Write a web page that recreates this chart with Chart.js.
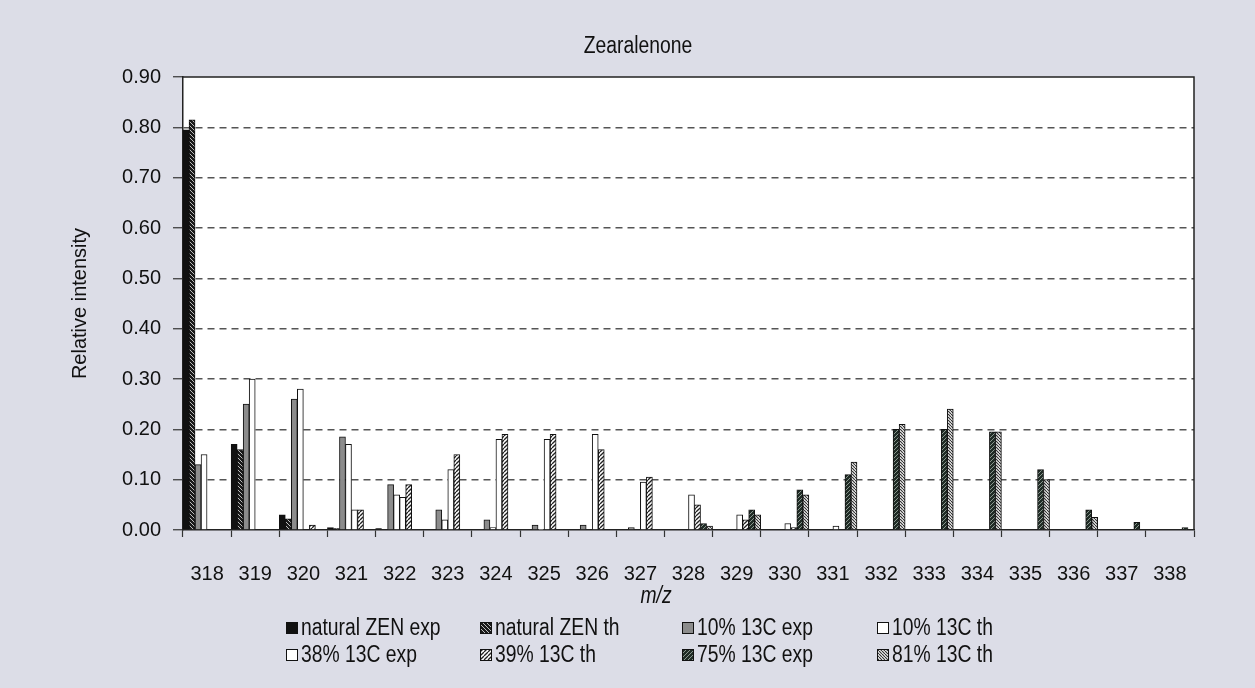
<!DOCTYPE html>
<html><head><meta charset="utf-8">
<script src="https://cdn.jsdelivr.net/npm/chart.js@4.4.1/dist/chart.umd.min.js"></script>
<style>html,body{margin:0;padding:0;background:#dcdde7;}#wrap{width:1255px;height:688px;position:relative;}</style>
</head><body><div id="wrap"><canvas id="c" width="1255" height="688"></canvas></div>
<script>
// ---- data ----
const mzLabels = ['318','319','320','321','322','323','324','325','326','327','328','329','330','331','332','333','334','335','336','337','338'];
const seriesNames = ['natural ZEN exp','natural ZEN th','10% 13C exp','10% 13C th','38% 13C exp','39% 13C th','75% 13C exp','81% 13C th'];
const naturalExp = [0.795,0.17,0.03,0.005,0.003,0,0,0,0,0,0,0,0,0,0,0,0,0,0,0,0];
const naturalTh  = [0.815,0.16,0.022,0.003,0,0,0,0,0,0,0,0,0,0,0,0,0,0,0,0,0];
const c10Exp     = [0.13,0.25,0.26,0.185,0.09,0.04,0.02,0.01,0.01,0.005,0,0,0,0,0,0,0,0,0,0,0];
const c10Th      = [0.15,0.30,0.28,0.17,0.07,0.02,0.005,0.001,0,0,0,0,0,0,0,0,0,0,0,0,0];
const c38Exp     = [0,0,0,0.04,0.065,0.12,0.18,0.18,0.19,0.095,0.07,0.03,0.013,0.008,0,0,0,0,0,0,0];
const c39Th      = [0,0,0.01,0.04,0.09,0.15,0.19,0.19,0.16,0.105,0.05,0.02,0.005,0,0,0,0,0,0,0,0];
const c75Exp     = [0,0,0,0,0,0,0,0,0,0,0.013,0.04,0.08,0.11,0.20,0.20,0.195,0.12,0.04,0.015,0.005];
const c81Th      = [0,0,0,0,0,0,0,0,0,0,0.008,0.03,0.07,0.135,0.21,0.24,0.195,0.10,0.025,0,0];
const yTickValues = [0,0.1,0.2,0.3,0.4,0.5,0.6,0.7,0.8,0.9];
const chartTitle = 'Zearalenone';
const xTitle = 'm/z';

// ---- styles ----
const FF = "'Liberation Sans',Arial,sans-serif";
function hatch(bg, fg, dir, s, lw){
  const c = document.createElement('canvas'); c.width = s; c.height = s;
  const x = c.getContext('2d');
  x.fillStyle = bg; x.fillRect(0,0,s,s);
  x.strokeStyle = fg; x.lineWidth = lw;
  for (let k=-1;k<=1;k++){
    x.beginPath();
    if (dir === '/') { x.moveTo(k*s, s); x.lineTo(k*s+s, 0); }
    else { x.moveTo(k*s, 0); x.lineTo(k*s+s, s); }
    x.stroke();
  }
  return x.createPattern(c,'repeat');
}
const fills = [
  '#111111',
  hatch('#1a1a1a','#bdbdbd','\\',4,1),
  '#8c8c8c',
  '#ffffff',
  '#ffffff',
  hatch('#ffffff','#222222','/',4,1.3),
  hatch('#1f2b25','#8a968e','/',4,1),
  hatch('#ffffff','#333333','\\',3,1.2)
];
const seriesData = [naturalExp, naturalTh, c10Exp, c10Th, c38Exp, c39Th, c75Exp, c81Th];

const datasets = seriesNames.map((n,i)=>({
  label: n, data: seriesData[i], backgroundColor: fills[i],
  borderColor: '#111', borderWidth: 1, categoryPercentage: 1.0, barPercentage: 1.0
}));

// narrow text (Arial-Narrow look) by horizontal scaling
function narrowText(ctx, txt, x, y, size, align, italic){
  ctx.save();
  ctx.font = (italic ? 'italic ' : '') + size + 'px ' + FF;
  ctx.textAlign = align; ctx.textBaseline = 'middle'; ctx.fillStyle = '#111';
  ctx.translate(x, y); ctx.scale(0.84, 1);
  ctx.fillText(txt, 0, 0);
  ctx.restore();
}

const bgPlugin = {
  id:'bg',
  beforeDraw(chart){
    const {ctx, chartArea:a} = chart;
    ctx.save(); ctx.fillStyle = '#dcdde7'; ctx.fillRect(0,0,chart.width,chart.height);
    ctx.fillStyle = '#ffffff'; ctx.fillRect(a.left,a.top,a.right-a.left,a.bottom-a.top); ctx.restore();
  },
  afterDraw(chart){
    const {ctx, chartArea:a} = chart;
    ctx.save(); ctx.strokeStyle = '#222'; ctx.lineWidth = 1.5;
    ctx.beginPath(); ctx.moveTo(a.left,a.top); ctx.lineTo(a.right,a.top); ctx.lineTo(a.right,a.bottom); ctx.stroke();
    ctx.restore();
    narrowText(ctx, chartTitle, 638, 47, 23, 'center', false);
    narrowText(ctx, xTitle, 656, 597, 23, 'center', true);
    // legend in 4 columns x 2 rows
    const cols = [286,480,682,877], rows = [628,655];
    seriesNames.forEach((n,i)=>{
      const x = cols[i%4], y = rows[Math.floor(i/4)];
      ctx.save();
      ctx.fillStyle = fills[i]; ctx.fillRect(x, y-6, 12, 12);
      ctx.strokeStyle = '#111'; ctx.lineWidth = 1; ctx.strokeRect(x+0.5, y-5.5, 11, 11);
      ctx.restore();
      narrowText(ctx, n, x+15, y+1, 23, 'left', false);
    });
  }
};

new Chart(document.getElementById('c'), {
  type:'bar',
  data:{ labels: mzLabels, datasets },
  plugins:[bgPlugin],
  options:{
    responsive:false, animation:false,
    layout:{ padding:{ left:0, right:61, top:77, bottom:70 } },
    plugins:{ legend:{ display:false }, tooltip:{ enabled:false }, title:{ display:false } },
    scales:{
      x:{
        grid:{ display:true, drawOnChartArea:false, drawTicks:true, tickLength:7, color:'#333', tickColor:'#333', tickWidth:1.2, offset:true },
        border:{ display:true, color:'#222', width:1.5 },
        ticks:{ color:'#111', font:{ family:FF, size:20 }, padding:25, maxRotation:0, autoSkip:false },
        title:{ display:false },
        afterFit(s){ s.height = 88; }
      },
      y:{
        min:0, max:0.9,
        afterBuildTicks(s){ s.ticks = yTickValues.map(v=>({value:v})); },
        grid:{ drawTicks:true, tickLength:10, lineWidth:1.5,
          color:(c)=> (c.tick && (c.tick.value===0 || Math.abs(c.tick.value-0.9)<1e-9)) ? 'rgba(0,0,0,0)' : '#555',
          tickColor:'#333', tickWidth:1.2 },
        border:{ display:true, color:'#222', width:1.5, dash:[7,5] },
        ticks:{ color:'#111', font:{ family:FF, size:20 }, padding:12, callback:(v)=>Number(v).toFixed(2) },
        title:{ display:true, text:'Relative intensity', color:'#111', font:{ family:FF, size:20 }, padding:{ top:68, bottom:0 } },
        afterFit(s){ s.width = 183; }
      }
    }
  }
});
</script></body></html>
